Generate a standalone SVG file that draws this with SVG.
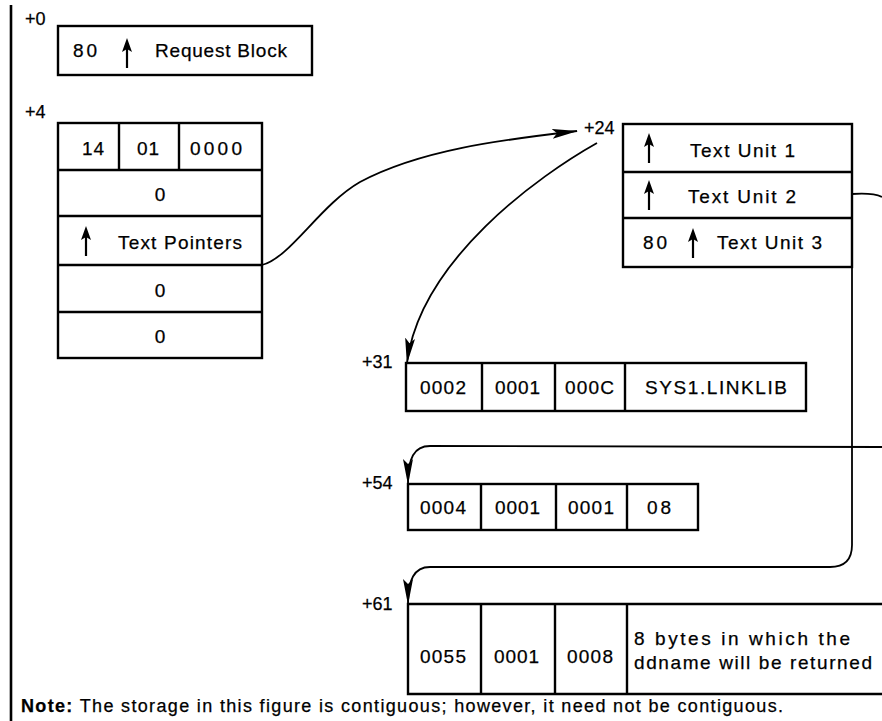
<svg xmlns="http://www.w3.org/2000/svg" width="882" height="721" viewBox="0 0 882 721">
<style>
.box{fill:none;stroke:#000;stroke-width:2.4}
.conn{fill:none;stroke:#000;stroke-width:1.8}
text{font-family:"Liberation Sans",Arial,sans-serif;font-size:19px;fill:#000;stroke:#000;stroke-width:0.25}
.lbl{font-size:18px}
.note{font-size:18px}
.c{text-anchor:middle}
</style>
<defs>
<marker id="arr" viewBox="0 0 26 10" refX="25" refY="5" markerWidth="26" markerHeight="10" markerUnits="userSpaceOnUse" orient="auto">
<path d="M0,0 L26,5 L0,10 L5,5 Z" fill="#000"/>
</marker>
<g id="up">
<line x1="0" y1="8" x2="0" y2="30" stroke="#000" stroke-width="2.2"/>
<path d="M0,0 L5,14 L0,11 L-5,14 Z" fill="#000"/>
</g>
</defs>
<rect width="882" height="721" fill="#fff"/>
<line x1="11" y1="5" x2="11" y2="721" stroke="#000" stroke-width="2.6"/>

<g id="request-block">
<text class="lbl" x="25" y="25">+0</text>
<rect class="box" x="58" y="26" width="254" height="49"/>
<text x="73" y="57" textLength="24">80</text>
<use href="#up" x="127" y="38"/>
<text x="155" y="57" textLength="132" lengthAdjust="spacing">Request Block</text>
</g>

<g id="parameter-list">
<text class="lbl" x="25" y="118">+4</text>
<rect class="box" x="58" y="123" width="204" height="235"/>
<line class="box" x1="58" y1="170" x2="262" y2="170"/>
<line class="box" x1="58" y1="216" x2="262" y2="216"/>
<line class="box" x1="58" y1="265" x2="262" y2="265"/>
<line class="box" x1="58" y1="312" x2="262" y2="312"/>
<line class="box" x1="119" y1="123" x2="119" y2="170"/>
<line class="box" x1="179" y1="123" x2="179" y2="170"/>
<text x="82" y="155" textLength="22">14</text>
<text x="137" y="155" textLength="22">01</text>
<text x="190" y="155" textLength="52">0000</text>
<text class="c" x="160" y="201">0</text>
<use href="#up" x="86" y="226"/>
<text x="118" y="249" textLength="124" lengthAdjust="spacing">Text Pointers</text>
<text class="c" x="160" y="297">0</text>
<text class="c" x="160" y="343">0</text>
</g>

<g id="text-pointers">
<text class="lbl" x="584" y="134">+24</text>
<rect class="box" x="623" y="124" width="229" height="143"/>
<line class="box" x1="623" y1="172" x2="852" y2="172"/>
<line class="box" x1="623" y1="218" x2="852" y2="218"/>
<use href="#up" x="649" y="133"/>
<text x="690" y="157" textLength="105" lengthAdjust="spacing">Text Unit 1</text>
<use href="#up" x="649" y="180"/>
<text x="688" y="203" textLength="108" lengthAdjust="spacing">Text Unit 2</text>
<text x="643" y="249" textLength="24">80</text>
<use href="#up" x="693" y="228"/>
<text x="717" y="249" textLength="105" lengthAdjust="spacing">Text Unit 3</text>
</g>

<g id="text-unit-1">
<text class="lbl" x="362" y="368">+31</text>
<rect class="box" x="406" y="363" width="400" height="48"/>
<line class="box" x1="482" y1="363" x2="482" y2="411"/>
<line class="box" x1="555" y1="363" x2="555" y2="411"/>
<line class="box" x1="625" y1="363" x2="625" y2="411"/>
<text x="420" y="394" textLength="46">0002</text>
<text x="495" y="394" textLength="45">0001</text>
<text x="565" y="394" textLength="49">000C</text>
<text x="645" y="394" textLength="142" lengthAdjust="spacing">SYS1.LINKLIB</text>
</g>

<g id="text-unit-2">
<text class="lbl" x="362" y="489">+54</text>
<rect class="box" x="408" y="484" width="290" height="46"/>
<line class="box" x1="481" y1="484" x2="481" y2="530"/>
<line class="box" x1="556" y1="484" x2="556" y2="530"/>
<line class="box" x1="627" y1="484" x2="627" y2="530"/>
<text x="420" y="514" textLength="46">0004</text>
<text x="495" y="514" textLength="45">0001</text>
<text x="568" y="514" textLength="46">0001</text>
<text x="647" y="514" textLength="24">08</text>
</g>

<g id="text-unit-3">
<text class="lbl" x="362" y="610">+61</text>
<path class="box" d="M882,604 L408,604 L408,694 L882,694"/>
<line class="box" x1="481" y1="604" x2="481" y2="694"/>
<line class="box" x1="555" y1="604" x2="555" y2="694"/>
<line class="box" x1="627" y1="604" x2="627" y2="694"/>
<text x="420" y="663" textLength="46">0055</text>
<text x="494" y="663" textLength="45">0001</text>
<text x="567" y="663" textLength="46">0008</text>
<text x="634" y="645" textLength="216" lengthAdjust="spacing">8 bytes in which the</text>
<text x="634" y="669" textLength="238" lengthAdjust="spacing">ddname will be returned</text>
</g>

<g id="connectors">
<path class="conn" d="M262,265 C290,258 320,205 360,182 C420,150 500,140 577,131" marker-end="url(#arr)"/>
<path class="conn" d="M597,143 C540,175 420,260 407,363" marker-end="url(#arr)"/>
<path class="conn" d="M852,194 C866,193 876,194 882,197"/>
<path class="conn" d="M882,447 L430,446 C414,446 408,458 408,484" marker-end="url(#arr)"/>
<path class="conn" d="M852,267 L852,545 C852,560 845,567 830,567 L430,567 C414,567 408,580 408,604" marker-end="url(#arr)"/>
</g>

<text class="note" x="21" y="712" textLength="762" lengthAdjust="spacing"><tspan font-weight="bold">Note:</tspan>  The storage in this figure is contiguous;  however, it need not be contiguous.</text>
</svg>
